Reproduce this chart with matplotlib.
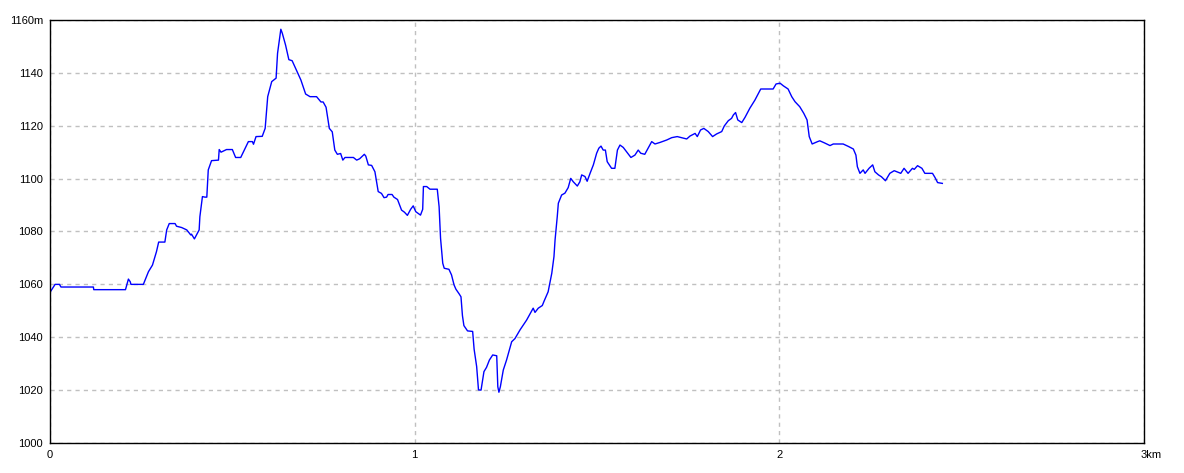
import matplotlib
matplotlib.use("Agg")
import matplotlib.pyplot as plt
import matplotlib.transforms as mtransforms

# distance (km) / elevation (m) read from the profile
dist_km = [
    0.000, 0.014, 0.026, 0.030, 0.119, 0.120, 0.207, 0.215, 0.220, 0.222,
    0.256, 0.270, 0.281, 0.292, 0.298, 0.315, 0.320, 0.327, 0.343, 0.347,
    0.361, 0.375, 0.386, 0.388, 0.396, 0.409, 0.411, 0.418, 0.425, 0.430,
    0.434, 0.443, 0.462, 0.464, 0.469, 0.484, 0.500, 0.509, 0.523, 0.544,
    0.555, 0.558, 0.565, 0.582, 0.590, 0.597, 0.608, 0.620, 0.624, 0.633,
    0.637, 0.646, 0.655, 0.664, 0.676, 0.688, 0.701, 0.713, 0.731, 0.743,
    0.749, 0.757, 0.766, 0.774, 0.781, 0.788, 0.797, 0.803, 0.809, 0.832,
    0.841, 0.849, 0.862, 0.866, 0.873, 0.882, 0.891, 0.900, 0.909, 0.916,
    0.923, 0.927, 0.938, 0.943, 0.953, 0.964, 0.972, 0.980, 0.989, 0.996,
    1.003, 1.016, 1.022, 1.024, 1.033, 1.042, 1.062, 1.067, 1.071, 1.077,
    1.081, 1.094, 1.101, 1.108, 1.113, 1.122, 1.127, 1.131, 1.135, 1.145,
    1.159, 1.163, 1.170, 1.175, 1.182, 1.190, 1.197, 1.205, 1.214, 1.225,
    1.228, 1.231, 1.235, 1.243, 1.252, 1.266, 1.275, 1.289, 1.307, 1.321,
    1.325, 1.330, 1.339, 1.350, 1.355, 1.366, 1.376, 1.382, 1.385, 1.391,
    1.394, 1.403, 1.412, 1.421, 1.428, 1.435, 1.446, 1.453, 1.458, 1.467,
    1.473, 1.481, 1.490, 1.499, 1.505, 1.511, 1.517, 1.523, 1.528, 1.540,
    1.549, 1.556, 1.563, 1.572, 1.581, 1.593, 1.604, 1.613, 1.620, 1.631,
    1.640, 1.650, 1.659, 1.673, 1.691, 1.705, 1.720, 1.732, 1.746, 1.755,
    1.769, 1.775, 1.784, 1.793, 1.805, 1.817, 1.828, 1.842, 1.849, 1.860,
    1.869, 1.874, 1.880, 1.886, 1.897, 1.906, 1.919, 1.933, 1.949, 1.983,
    1.991, 2.002, 2.011, 2.024, 2.034, 2.043, 2.056, 2.067, 2.076, 2.082,
    2.090, 2.105, 2.111, 2.124, 2.139, 2.148, 2.175, 2.189, 2.203, 2.210,
    2.214, 2.221, 2.230, 2.235, 2.246, 2.256, 2.262, 2.272, 2.280, 2.291,
    2.303, 2.315, 2.322, 2.333, 2.342, 2.353, 2.365, 2.370, 2.379, 2.391,
    2.399, 2.420, 2.427, 2.434, 2.447,
]
elev_m = [
    1057, 1060, 1060, 1059, 1059, 1058, 1058, 1062, 1061, 1060,
    1060, 1064.8, 1067.3, 1072.4, 1076, 1076, 1080.6, 1083, 1083, 1082,
    1081.5, 1080.6, 1078.7, 1079, 1077.2, 1080.6, 1085.6, 1093.2, 1093, 1093,
    1103.3, 1106.8, 1107, 1111, 1110, 1111, 1111, 1108, 1108, 1114,
    1114, 1113, 1115.9, 1116, 1119, 1131, 1136.7, 1138, 1147.4, 1156.5,
    1155, 1150.5, 1145, 1144.6, 1141, 1137.3, 1132, 1131, 1131, 1129,
    1129, 1127, 1119, 1117.7, 1110.8, 1109.2, 1109.5, 1107, 1108, 1108,
    1107, 1107.5, 1109.2, 1108.5, 1105.2, 1105, 1102.6, 1095.1, 1094.4, 1092.8,
    1093, 1094, 1094, 1093, 1092.1, 1088.1, 1087.3, 1086.1, 1088.4, 1089.7,
    1087.5, 1086.2, 1088.4, 1097, 1097, 1096, 1096, 1089.4, 1077.4, 1068,
    1066.1, 1065.7, 1063.6, 1059.8, 1058.2, 1056.4, 1055.3, 1048.2, 1044.4, 1042.4,
    1042.2, 1035.5, 1028.9, 1020.1, 1020, 1027, 1028.6, 1031.4, 1033.3, 1033,
    1021.3, 1019.2, 1021.3, 1027.6, 1031.4, 1038.3, 1039.5, 1042.8, 1046.5, 1050,
    1051, 1049.4, 1051, 1052, 1053.7, 1057.2, 1064.2, 1070.5, 1076.8, 1085.6,
    1090.7, 1093.8, 1094.5, 1096.6, 1100.1, 1098.8, 1097.2, 1098.8, 1101.4, 1100.8,
    1099, 1102, 1105.2, 1109.6, 1111.5, 1112.3, 1110.8, 1110.8, 1106.4, 1103.9,
    1103.9, 1110.8, 1112.7, 1111.8, 1110.2, 1108, 1108.9, 1110.8, 1109.6, 1109.2,
    1111.5, 1114, 1113.1, 1113.7, 1114.6, 1115.5, 1115.9, 1115.5, 1115, 1116.1,
    1117.1, 1115.9, 1118.4, 1119, 1117.8, 1115.9, 1116.9, 1117.8, 1119.9, 1121.9,
    1122.8, 1124.1, 1125, 1122.2, 1121.2, 1123.2, 1126.6, 1129.7, 1133.9, 1133.9,
    1135.8, 1136.1, 1135.1, 1133.9, 1131, 1129.1, 1127.2, 1124.7, 1122.2, 1115.9,
    1113.1, 1114, 1114.3, 1113.5, 1112.5, 1113.1, 1113.1, 1112.2, 1111.2, 1108.9,
    1104.5, 1102, 1103.3, 1102, 1103.9, 1105.2, 1102.6, 1101.4, 1100.7, 1099.2,
    1102, 1103, 1102.6, 1102, 1103.9, 1102, 1103.9, 1103.5, 1104.9, 1103.9,
    1102, 1102, 1100.4, 1098.5, 1098.2,
]

x_ticks = [0, 1, 2, 3]
x_labels = ["0", "1", "2", "3km"]
y_ticks = [1000, 1020, 1040, 1060, 1080, 1100, 1120, 1140, 1160]
y_labels = ["1000", "1020", "1040", "1060", "1080", "1100", "1120", "1140", "1160m"]

plt.rcParams["font.family"] = ["Liberation Sans", "DejaVu Sans"]

fig = plt.figure(figsize=(11.84, 4.73), dpi=100)
ax = fig.add_axes([50 / 1184, 30 / 473, 1094 / 1184, 423 / 473])

ax.plot(dist_km, elev_m, color="#0000ff", lw=1.0)

ax.set_xlim(0, 3)
ax.set_ylim(1000, 1160)
ax.set_xticks(x_ticks)
ax.set_xticklabels(x_labels, fontsize=8)
ax.set_yticks(y_ticks)
ax.set_yticklabels(y_labels, fontsize=8)
ax.tick_params(length=0, pad=5)

# the "3km" label starts at the tick rather than being centred on it
last = ax.get_xticklabels()[-1]
last.set_horizontalalignment("left")
last.set_transform(last.get_transform() + mtransforms.ScaledTranslation(-3 / 100, 0, fig.dpi_scale_trans))

ax.grid(True, color="#c0c0c0", ls=(0, (3, 3)), lw=1)
for sp in ax.spines.values():
    sp.set_color("black")
    sp.set_linewidth(1)

fig.savefig("out.png", dpi=100)
